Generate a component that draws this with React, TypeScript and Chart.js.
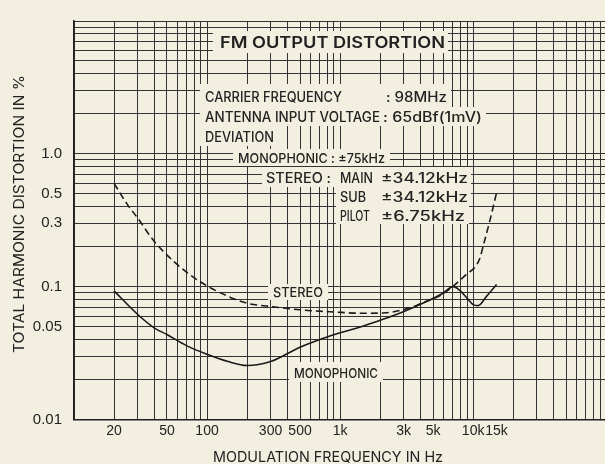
import React, { useEffect, useRef } from 'react';
import { Chart, registerables } from 'chart.js';

Chart.register(...registerables);

// ---- data ----
const stereoFreq = [20, 25, 30, 40, 57, 85, 120, 200, 300, 500, 900, 1500, 2200, 3300, 4100, 5800, 7100, 9000, 10300, 11200, 11900, 13400, 15000];
const stereoThd = [0.6, 0.42, 0.33, 0.22, 0.153, 0.112, 0.092, 0.075, 0.071, 0.067, 0.0645, 0.063, 0.0636, 0.069, 0.075, 0.087, 0.101, 0.125, 0.14, 0.162, 0.202, 0.318, 0.51];

const monoFreq = [20, 30, 40, 50, 70, 100, 144, 200, 300, 500, 860, 1460, 2300, 3700, 5800, 7100, 7900, 9000, 10000, 10900, 12600, 15000];
const monoThd = [0.093, 0.062, 0.049, 0.0436, 0.036, 0.031, 0.0273, 0.0255, 0.0273, 0.035, 0.0429, 0.0502, 0.0585, 0.071, 0.088, 0.1, 0.094, 0.082, 0.0732, 0.072, 0.0845, 0.104];

const xLabelValues = [20, 50, 100, 300, 500, 1000, 3000, 5000, 10000, 15000];
const xLabelTexts = ['20', '50', '100', '300', '500', '1k', '3k', '5k', '10k', '15k'];
const yLabelValues = [0.01, 0.05, 0.1, 0.3, 0.5, 1];
const yLabelTexts = ['0.01', '0.05', '0.1', '0.3', '0.5', '1.0'];

const xDecades = [10, 100, 1000, 10000];
const yDecades = [0.01, 0.1, 1];

const TITLE = 'FM OUTPUT DISTORTION';
const X_TITLE = 'MODULATION FREQUENCY IN Hz';
const Y_TITLE = 'TOTAL HARMONIC DISTORTION IN %';
const NOTE_CARRIER = 'CARRIER FREQUENCY';
const NOTE_CARRIER_VAL = ': 98MHz';
const NOTE_ANT = 'ANTENNA INPUT VOLTAGE';
const NOTE_ANT_VAL = ': 65dBf(1mV)';
const NOTE_DEV = 'DEVIATION';
const NOTE_MONO = 'MONOPHONIC : ±75kHz';
const NOTE_STEREO = 'STEREO :';
const NOTE_MAIN = 'MAIN';
const NOTE_MAIN_VAL = '±34.12kHz';
const NOTE_SUB = 'SUB';
const NOTE_SUB_VAL = '±34.12kHz';
const NOTE_PILOT = 'PILOT';
const NOTE_PILOT_VAL = '±6.75kHz';
const LABEL_STEREO = 'STEREO';
const LABEL_MONO = 'MONOPHONIC';

const X_MIN = 10;
const X_MAX = 98000;
const Y_MIN = 0.01;
const Y_MAX = 10;

const PAPER = '#f3efe0';
const INK = '#222222';
const GRID = '#333333';
const TICK_FONT = '"Liberation Sans", Arial, sans-serif';
const NOTE_FONT = 'Inter, "Liberation Sans", sans-serif';

function logGrid(decades: number[], extra: number[]) {
  const out: number[] = [];
  decades.forEach((d) => {
    for (let k = 1; k <= 9; k++) out.push(Number((d * k).toPrecision(6)));
  });
  extra.forEach((v) => out.push(v));
  return out;
}

const xGrid = logGrid(xDecades, []).filter((v) => v <= X_MAX);
const yGrid = logGrid(yDecades, [10]);

const same = (a: number, b: number) => Math.abs(a - b) / b < 1e-6;
const isIn = (arr: number[], v: number) => arr.some((a) => same(a, v));

const xTicks = Array.from(new Set([...xGrid, ...xLabelValues])).sort((a, b) => a - b);

function fitText(ctx: CanvasRenderingContext2D, text: string, x: number, baseline: number, width: number, size: number, weight = 500) {
  ctx.font = `${weight} ${size}px ${NOTE_FONT}`;
  const w = ctx.measureText(text).width;
  ctx.save();
  ctx.translate(x, baseline);
  ctx.scale(width / w, 1);
  ctx.fillText(text, 0, 0);
  ctx.restore();
}

const paperPlugin = {
  id: 'paper',
  beforeDraw(chart: any) {
    const { ctx, width, height } = chart;
    ctx.save();
    ctx.fillStyle = PAPER;
    ctx.fillRect(0, 0, width, height);
    ctx.restore();
  },
  beforeDatasetsDraw(chart: any) {
    const ctx: CanvasRenderingContext2D = chart.ctx;
    ctx.save();
    // masks behind the printed labels
    ctx.fillStyle = PAPER;
    const masks: [number, number, number, number][] = [
      [213, 31, 448, 53],
      [200, 84, 451, 107],
      [200, 107, 486, 126],
      [200, 126, 279, 146],
      [233, 149, 390, 166],
      [262, 167, 471, 187],
      [336, 187, 471, 205],
      [336, 205, 469, 224],
      [268, 284, 328, 300],
      [289, 362, 383, 382],
    ];
    masks.forEach(([x0, y0, x1, y1]) => ctx.fillRect(x0, y0, x1 - x0, y1 - y0));

    ctx.fillStyle = INK;
    ctx.textAlign = 'left';
    ctx.textBaseline = 'alphabetic';
    fitText(ctx, TITLE, 220, 47.5, 225, 16, 600);
    fitText(ctx, NOTE_CARRIER, 205, 102, 137, 14);
    fitText(ctx, NOTE_CARRIER_VAL, 386, 102, 61, 14);
    fitText(ctx, NOTE_ANT, 205, 122, 175, 14);
    fitText(ctx, NOTE_ANT_VAL, 383, 122, 99, 14);
    fitText(ctx, NOTE_DEV, 205, 142, 69, 14);
    fitText(ctx, NOTE_MONO, 238, 162.5, 147, 13.5);
    fitText(ctx, NOTE_STEREO, 266, 182.5, 65, 14);
    fitText(ctx, NOTE_MAIN, 340, 182.5, 33, 14);
    fitText(ctx, NOTE_MAIN_VAL, 381, 182.5, 87, 14);
    fitText(ctx, NOTE_SUB, 340, 201.5, 26, 14);
    fitText(ctx, NOTE_SUB_VAL, 381, 201.5, 87, 14);
    fitText(ctx, NOTE_PILOT, 340, 220.5, 30, 14);
    fitText(ctx, NOTE_PILOT_VAL, 381, 220.5, 84, 14);
    fitText(ctx, LABEL_STEREO, 273, 297, 50, 13.5);
    fitText(ctx, LABEL_MONO, 294, 377.5, 84, 13.5);

    // axis titles
    fitText(ctx, X_TITLE, 213, 461.5, 230, 14, 400);
    ctx.save();
    ctx.translate(24, 353);
    ctx.rotate(-Math.PI / 2);
    fitText(ctx, Y_TITLE, 0, 0, 278, 14, 400);
    ctx.restore();
    ctx.restore();
  },
};

export default function App() {
  const ref = useRef<HTMLCanvasElement | null>(null);

  useEffect(() => {
    if (!ref.current) return;
    const chart = new Chart(ref.current, {
      type: 'line',
      data: {
        datasets: [
          {
            label: 'STEREO',
            data: stereoFreq.map((f, i) => ({ x: f, y: stereoThd[i] })),
            borderColor: '#1a1a1a',
            borderWidth: 1.6,
            borderDash: [7, 4],
            pointRadius: 0,
            fill: false,
            cubicInterpolationMode: 'monotone',
          },
          {
            label: 'MONOPHONIC',
            data: monoFreq.map((f, i) => ({ x: f, y: monoThd[i] })),
            borderColor: '#1a1a1a',
            borderWidth: 1.6,
            pointRadius: 0,
            fill: false,
            cubicInterpolationMode: 'monotone',
          },
        ],
      },
      options: {
        animation: false,
        responsive: false,
        maintainAspectRatio: false,
        layout: { padding: { top: 12, left: 0, right: 0, bottom: 0 } },
        plugins: {
          legend: { display: false },
          tooltip: { enabled: false },
          title: { display: false },
        },
        scales: {
          x: {
            type: 'logarithmic',
            min: X_MIN,
            max: X_MAX,
            afterBuildTicks: (scale: any) => {
              scale.ticks = xTicks.map((v) => ({ value: v }));
            },
            afterFit: (scale: any) => {
              scale.height = 44.5;
            },
            grid: {
              drawTicks: false,
              lineWidth: 1,
              color: (c: any) => (c.tick && isIn(xGrid, c.tick.value) ? GRID : 'rgba(0,0,0,0)'),
            },
            border: { display: true, color: '#1e1e1e', width: 1.5 },
            ticks: {
              autoSkip: false,
              maxRotation: 0,
              minRotation: 0,
              padding: 3,
              color: INK,
              font: { family: TICK_FONT, size: 14 },
              callback: (v: any) => {
                const i = xLabelValues.findIndex((a) => same(a, Number(v)));
                return i >= 0 ? xLabelTexts[i] : '';
              },
            },
          },
          y: {
            type: 'logarithmic',
            min: Y_MIN,
            max: Y_MAX,
            afterBuildTicks: (scale: any) => {
              scale.ticks = yGrid.map((v) => ({ value: v }));
            },
            afterFit: (scale: any) => {
              scale.width = 74;
            },
            grid: {
              drawTicks: false,
              lineWidth: 1,
              color: GRID,
            },
            border: { display: true, color: '#1e1e1e', width: 1.5 },
            ticks: {
              autoSkip: false,
              padding: 12,
              color: INK,
              font: { family: TICK_FONT, size: 15 },
              callback: (v: any) => {
                const i = yLabelValues.findIndex((a) => same(a, Number(v)));
                return i >= 0 ? yLabelTexts[i] : '';
              },
            },
          },
        },
      },
      plugins: [paperPlugin],
    } as any);
    return () => chart.destroy();
  }, []);

  return (
    <div style={{ position: 'fixed', left: 0, top: 0, width: 605, height: 464 }}>
      <canvas ref={ref} width={605} height={464} style={{ width: 605, height: 464, display: 'block' }} />
    </div>
  );
}
